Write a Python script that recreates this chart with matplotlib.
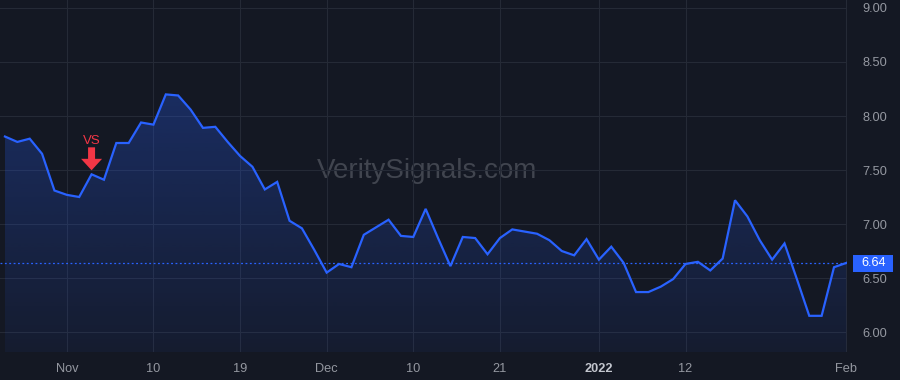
import numpy as np
import pandas as pd
import matplotlib
matplotlib.use('Agg')
from matplotlib import pyplot as plt
from matplotlib.colors import to_rgb
from matplotlib import transforms
from matplotlib.patches import Polygon, Rectangle

# trading days Oct 25 2021 - Feb 1 2022 (US market holidays removed)
holidays = ['2021-11-25', '2021-12-24', '2022-01-17']
dates = pd.bdate_range('2021-10-25', '2022-02-01')
dates = dates[~dates.isin(pd.to_datetime(holidays))]

prices = [7.81, 7.76, 7.79, 7.65, 7.31, 7.27, 7.25, 7.46, 7.41, 7.75,
          7.75, 7.94, 7.92, 8.20, 8.19, 8.06, 7.89, 7.90, 7.76, 7.63,
          7.53, 7.32, 7.39, 7.03, 6.96, 6.76, 6.55, 6.63, 6.60, 6.90,
          6.97, 7.04, 6.89, 6.88, 7.14, 6.87, 6.61, 6.88, 6.87, 6.72,
          6.87, 6.95, 6.93, 6.91, 6.85, 6.75, 6.71, 6.86, 6.67, 6.79,
          6.64, 6.37, 6.37, 6.42, 6.49, 6.63, 6.65, 6.57, 6.68, 7.22,
          7.07, 6.85, 6.67, 6.82, 6.49, 6.15, 6.15, 6.60, 6.64]

tick_dates = ['2021-11-01', '2021-11-10', '2021-11-19', '2021-12-01', '2021-12-10',
              '2021-12-21', '2022-01-03', '2022-01-12', '2022-02-01']
tick_labels = ['Nov', '10', '19', 'Dec', '10', '21', '2022', '12', 'Feb']
yticks = [6.0, 6.5, 7.0, 7.5, 8.0, 8.5, 9.0]
signal_date = '2021-11-03'
last_price = prices[-1]

bg = '#141823'
grid = '#252a36'
blue = '#2962ff'
red = '#f23645'
txt = '#9598a1'

plt.rcParams['font.family'] = ['Liberation Sans', 'DejaVu Sans']

f = plt.figure(figsize=[9, 3.8], dpi=100, facecolor=bg)
ax = f.add_axes([0, 28/380., 847/900., 352/380.])
ax.set_facecolor(bg)

xs = np.arange(len(prices))
ys = np.array(prices)
ax.set_xlim(-0.4, len(prices) - 1 + 0.05)
ax.set_ylim(5.815, 9.074)

# gradient fill under line
poly = ax.fill_between(xs, ys, 5.0, color='none', lw=0)
rgb = to_rgb(blue)
grad = np.zeros((100, 1, 4))
grad[:, 0, :3] = rgb
grad[:, 0, 3] = np.linspace(0.28, 0.06, 100)
im = ax.imshow(grad, aspect='auto', extent=[xs[0], xs[-1], 5.815, ys.max()],
               origin='upper', zorder=1)
im.set_clip_path(poly.get_paths()[0], transform=ax.transData)

ax.plot(xs, ys, color=blue, lw=1.6, zorder=3, solid_joinstyle='miter')
ax.axhline(last_price, color=blue, lw=0.9, ls=(0, (1.5, 2)), zorder=2)

# grid
pos = [int(np.where(dates == pd.Timestamp(d))[0][0]) for d in tick_dates]
ax.set_xticks(pos)
ax.set_xticklabels(tick_labels)
ax.set_yticks(yticks)
ax.set_yticklabels(['%.2f' % v for v in yticks])
ax.yaxis.tick_right()
ax.grid(True, color=grid, lw=0.8)
ax.set_axisbelow(True)
ax.tick_params(axis='both', length=0, colors=txt, labelsize=9.2)
ax.tick_params(axis='y', pad=11)
ax.tick_params(axis='x', pad=8)
for lbl in ax.get_xticklabels():
  if lbl.get_text() == '2022':
    lbl.set_fontweight('bold')
    lbl.set_color('#c3c6ce')
for s in ax.spines.values():
  s.set_visible(False)

# watermark
ax.text(0.504, 0.515, 'VeritySignals.com', transform=ax.transAxes, ha='center',
        va='center', fontsize=20, color='#41454f', zorder=0)

# signal arrow (drawn in pixels above the point)
sx = int(np.where(dates == pd.Timestamp(signal_date))[0][0])
sy = prices[sx]
px, py = ax.transData.transform((sx, sy))
arrow = [(0, 4), (10.5, 15.5), (3.5, 15.5), (3.5, 27), (-3.5, 27), (-3.5, 15.5), (-10.5, 15.5)]
ax.add_patch(Polygon(arrow, closed=True, fc=red, ec='none', zorder=5,
                     transform=transforms.Affine2D().translate(px, py)))
ax.annotate('VS', xy=(sx, sy), xytext=(0, 24), textcoords='offset points',
            ha='center', va='center', fontsize=9.5, color=red, zorder=5)

# last price label
ax.add_patch(Rectangle((853/900., 108/380.), 40/900., 17/380., transform=f.transFigure,
                       fc=blue, ec='none', zorder=5, clip_on=False))
tr = transforms.blended_transform_factory(ax.transAxes, ax.transData)
ax.text(873.5/847., last_price, '%.2f' % last_price, transform=tr, ha='center',
        va='center', fontsize=9.2, color='white', clip_on=False, zorder=6)

plt.savefig('out.png', dpi=100, facecolor=bg)
